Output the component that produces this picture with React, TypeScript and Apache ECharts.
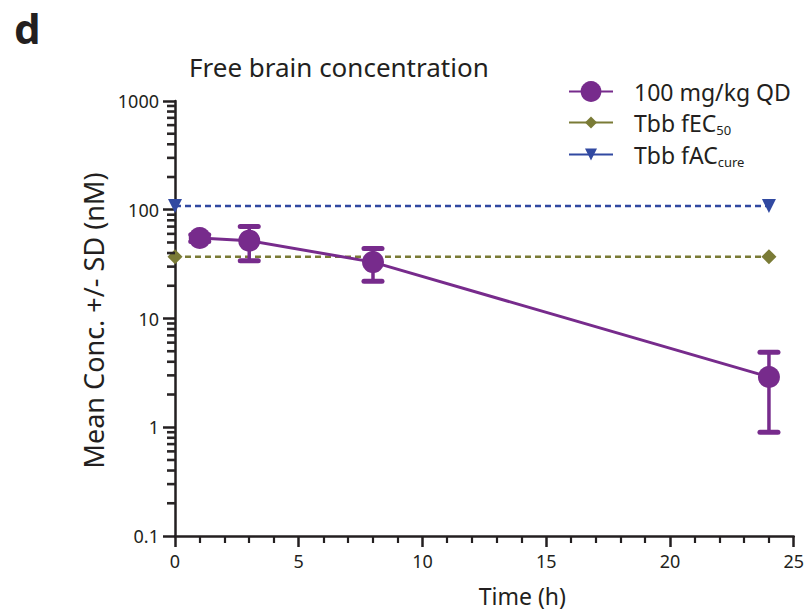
import React, { useEffect, useRef } from "react";
import * as echarts from "echarts";

// ---- data ----
const times = [1, 3, 8, 24];
const meanConc = [55, 52, 33, 2.9];
const sdConc = [4, 18, 11, 2.0];
const refX = [0, 24];
const fec50Value = 37;
const faccureValue = 108;
const yMinorTickValues = [
  0.2, 0.3, 0.4, 0.5, 0.6, 0.7, 0.8, 0.9,
  2, 3, 4, 5, 6, 7, 8, 9,
  20, 30, 40, 50, 60, 70, 80, 90,
  200, 300, 400, 500, 600, 700, 800, 900,
];
const seriesNames = ["100 mg/kg QD", "Tbb fEC50", "Tbb fACcure"];
const legendLabels: Record<string, string> = {
  "100 mg/kg QD": "100 mg/kg QD",
  "Tbb fEC50": "Tbb fEC{sub|50}",
  "Tbb fACcure": "Tbb fAC{sub|cure}",
};

const PURPLE = "#772b8c";
const OLIVE = "#7a7b36";
const BLUE = "#3149a1";
const INK = "#231f20";
const TICK = "#2a2627";
const FONT = "Noto Sans";

export default function App() {
  const ref = useRef<HTMLDivElement>(null);
  useEffect(() => {
    if (!ref.current) return;
    const chart = echarts.init(ref.current, undefined, { renderer: "svg" });

    const legendText = {
      fontSize: 23,
      fontFamily: FONT,
      color: INK,
      padding: [0, 0, 0, 16],
      rich: {
        sub: { fontSize: 13, fontFamily: FONT, color: INK, padding: [15, 0, 0, 0] },
      },
    };
    const mkLegend = (name: string, top: number, itemHeight: number) => ({
      data: [name],
      left: 568,
      top,
      orient: "vertical",
      itemWidth: 44,
      itemHeight,
      padding: 0,
      selectedMode: false,
      lineStyle: { type: "solid" },
      textStyle: legendText,
      formatter: (n: string) => legendLabels[n] ?? n,
    });

    const minorTickRender = (_p: any, api: any) => {
      const pt = api.coord([0, api.value(1)]);
      return {
        type: "line",
        shape: { x1: pt[0] - 8, y1: pt[1], x2: pt[0], y2: pt[1] },
        style: { stroke: TICK, lineWidth: 2.6 },
      };
    };

    chart.setOption({
      animation: false,
      title: [
        {
          text: "d",
          left: 14,
          top: 6,
          padding: 0,
          textStyle: { fontSize: 42, fontWeight: "bold", fontFamily: FONT, color: INK },
        },
        {
          text: "Free brain concentration",
          left: 189,
          top: 54,
          padding: 0,
          textStyle: { fontSize: 26, fontWeight: "normal", fontFamily: FONT, color: INK },
        },
      ],
      legend: [
        mkLegend(seriesNames[0], 80, 26),
        mkLegend(seriesNames[1], 111, 15),
        mkLegend(seriesNames[2], 143, 15),
      ],
      grid: { left: 175, right: 11, top: 101, bottom: 80, containLabel: false },
      xAxis: {
        type: "value",
        min: 0,
        max: 25,
        interval: 5,
        name: "Time (h)",
        nameLocation: "middle",
        nameGap: 48,
        nameTextStyle: { fontSize: 23, fontFamily: FONT, color: INK, padding: [0, 0, 0, 76] },
        axisLine: { show: true, lineStyle: { color: INK, width: 2.5 } },
        axisTick: { show: true, length: 11, lineStyle: { color: INK, width: 2.5 } },
        minorTick: { show: true, splitNumber: 5, length: 7, lineStyle: { color: INK, width: 2.2 } },
        splitLine: { show: false },
        minorSplitLine: { show: false },
        axisLabel: { fontSize: 18, fontFamily: FONT, color: INK, margin: 16 },
      },
      yAxis: {
        type: "log",
        logBase: 10,
        min: 0.1,
        max: 1000,
        name: "Mean Conc. +/- SD (nM)",
        nameLocation: "middle",
        nameGap: 57,
        nameTextStyle: { fontSize: 27, fontFamily: FONT, color: INK, padding: [0, 4, 0, 0] },
        axisLine: { show: true, lineStyle: { color: INK, width: 2.5 } },
        axisTick: { show: true, length: 12, lineStyle: { color: INK, width: 2.5 } },
        splitLine: { show: false },
        axisLabel: {
          fontSize: 18,
          fontFamily: FONT,
          color: INK,
          margin: 16,
          formatter: (v: number) => (v < 1 ? v.toFixed(1) : Math.round(v).toString()),
        },
      },
      series: [
        {
          id: "faccure",
          type: "line",
          name: seriesNames[2],
          data: refX.map((x) => [x, faccureValue]),
          color: BLUE,
          symbol: "triangle",
          symbolRotate: 180,
          symbolSize: 14,
          showAllSymbol: true,
          clip: false,
          lineStyle: { color: BLUE, width: 2.5, type: [6, 4] },
          itemStyle: { color: BLUE },
          z: 2,
        },
        {
          id: "fec50",
          type: "line",
          name: seriesNames[1],
          data: refX.map((x) => [x, fec50Value]),
          color: OLIVE,
          symbol: "diamond",
          symbolSize: 15,
          showAllSymbol: true,
          clip: false,
          lineStyle: { color: OLIVE, width: 2.5, type: [6, 4] },
          itemStyle: { color: OLIVE },
          z: 2,
        },
        {
          id: "errorBars",
          type: "custom",
          name: "errorBars",
          coordinateSystem: "cartesian2d",
          silent: true,
          clip: false,
          data: times.map((t, i) => [t, meanConc[i] - sdConc[i], meanConc[i] + sdConc[i]]),
          encode: { x: 0, y: [1, 2] },
          renderItem: (_p: any, api: any) => {
            const x = api.value(0);
            const lo = api.coord([x, api.value(1)]);
            const hi = api.coord([x, api.value(2)]);
            const w = 9;
            const st = { stroke: PURPLE, lineWidth: 3.5, lineCap: "round" };
            const cap = { stroke: PURPLE, lineWidth: 5, lineCap: "round" };
            return {
              type: "group",
              children: [
                { type: "line", shape: { x1: hi[0], y1: hi[1], x2: lo[0], y2: lo[1] }, style: st },
                { type: "line", shape: { x1: hi[0] - w, y1: hi[1], x2: hi[0] + w, y2: hi[1] }, style: cap },
                { type: "line", shape: { x1: lo[0] - w, y1: lo[1], x2: lo[0] + w, y2: lo[1] }, style: cap },
              ],
            };
          },
          z: 3,
        },
        {
          id: "mean",
          type: "line",
          name: seriesNames[0],
          data: times.map((t, i) => [t, meanConc[i]]),
          color: PURPLE,
          symbol: "circle",
          symbolSize: 22,
          showAllSymbol: true,
          clip: false,
          lineStyle: { color: PURPLE, width: 3 },
          itemStyle: { color: PURPLE },
          z: 4,
        },
        {
          id: "yMinorTicks",
          type: "custom",
          name: "yMinorTicks",
          coordinateSystem: "cartesian2d",
          silent: true,
          clip: false,
          data: yMinorTickValues.map((v) => [1, v, v]),
          encode: { x: 0, y: [1, 2] },
          renderItem: minorTickRender,
          z: 6,
        },
      ],
    });

    // second pass: re-render the minor-tick series once the axes exist
    chart.convertToPixel({ gridIndex: 0 }, [0, 1]);
    chart.setOption({
      series: [
        {
          id: "yMinorTicks",
          data: yMinorTickValues.map((v) => [1, v, v]),
          renderItem: minorTickRender,
        },
      ],
      graphic: [
        {
          type: "rect",
          left: 0,
          top: 0,
          silent: true,
          shape: { width: 1, height: 1 },
          style: { fill: "rgba(255,255,255,0)" },
        },
      ],
    });
    return () => chart.dispose();
  }, []);
  return <div ref={ref} style={{ width: 807, height: 616, position: "absolute", left: 0, top: 0 }} />;
}
